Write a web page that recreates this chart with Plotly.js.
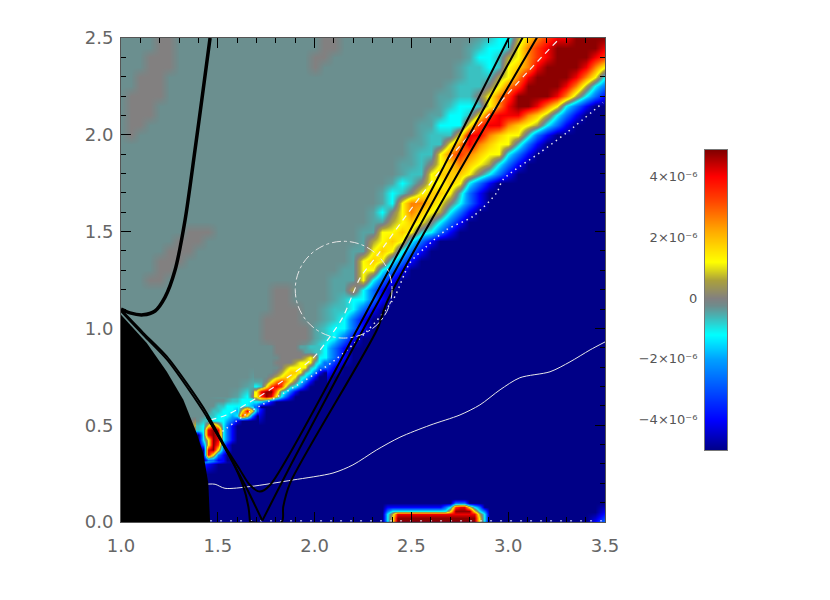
<!DOCTYPE html>
<html><head><meta charset="utf-8">
<script src="https://cdn.plot.ly/plotly-3.0.1.min.js"></script>
<style>html,body{margin:0;padding:0;background:#fff}</style></head>
<body><div id="chart" style="width:830px;height:600px"></div>
<script>
// Level key for the value grids (units of 1e-6)
const levelChars  = "ndakcetgoyuwrRDf";
const levelValues = [-5,-4,-2.6,-1.9,-1.2,-0.7,-0.28,0,0.6,1.2,1.8,2.6,3.4,4.1,4.8,-0.45];
// Main grid rows, y = 0.00 .. 2.50 step 0.05: first band column and band cells
const rowStart = [0,0,0,0,0,0,8,8,8,8,8,9,10,12,13,14,16,18,19,19,20,21,21,22,22,22,23,24,24,25,25,26,26,27,27,28,29,29,30,30,31,31,32,33,33,34,35,35,36,36,37];
const rowBand = ["","","","","","","ad","aRyd","yDRa","cRRad","yRrcad","eecrRdn","eecca","fcyRcad","ferRcad","ffywycad","fouycad","foycad","fecad","ffecad","feccad","fecad","feecad","feccad","ffocad","fffycad","ffyycad","fyuycad","ffyuycad","foyuycad","ffyyuyecad","ffoyuygcad","fcgywuyocad","fcywwuygcad","fcegyuuyead","fcegyyuycad","feeyuuuygcad","ffegyuwuyocad","feeywrwuyycad","ffeeywRwuyyead","feeeyRRwuyyead","ffcccyrRRwuyocad","ffcceyrRRRwuocad","fecceywRDDRwycad","ffeegywrDDDDRwocad","feeegywrDDDDRwoca","feeeoywRDDDDRwyc","feeceyuwRDDDDRwy","fcceoywrRDDDDRr","fecceywrRDDDDDR","feccouwrRRDDDD"];
// Small overrides on the main grid: row, column, cells
const gridPatches = [[50,4,"gg"],[49,4,"gg"],[48,3,"ggg"],[47,3,"ggg"],[46,2,"ggg"],[45,2,"ggg"],[44,1,"gggg"],[43,1,"ggg"],[42,1,"ggg"],[41,1,"gg"],[40,1,"g"],
 [50,21,"gg"],[49,21,"gg"],[48,20,"gg"],[47,20,"g"],
 [30,7,"ggg"],[29,6,"ggg"],[28,5,"ggg"],[27,4,"ggg"],[26,4,"gg"],[25,3,"gg"],
 [24,16,"gg"],[23,16,"gg"],[22,16,"ggg"],[21,15,"gggg"],[20,15,"ggggg"],[19,15,"ggggg"],[18,16,"ggg"],
 [0,49,"da"],[1,50,"d"]];
// Fine grid for the hot block at the bottom edge, x from 2.30 step 0.025, y from 0 step 0.02
const blockRows = [
 "nnncyDDDDDDDDDDDDDDDDDycnnnnn",
 "nnncyDDDDDDDDDDDDDDDDDycnnnnn",
 "nnncoRRRRRRRRRRRRRRRRRocnnnnn",
 "nnnaccccccccccccyDDDDycannnnn",
 "nnnddddddddddddacrRRycannnnnnn",
 "nnnnnnnnnnnnnnnnnaaannnnnnnnn",
 "nnnnnnnnnnnnnnnnnnnnnnnnnnnnn"];
// Fine grid for the hot spot by the sphere, x from 1.40 step 0.025, y from 0.325 step 0.025
const spotRows = [
 "nnaaddnnnnnnn",
 "nnRyadnnnnnnn",
 "nnRDyadnnnnnn",
 "nayDradnnnnnn",
 "ncyDRcadnnnnn",
 "ncRDRcadnnnnn",
 "ecRDRcadnnnnn",
 "ecyrycadnnnnn",
 "teeccckadnnnn",
 "tteeccckcryan",
 "ttteeccckyRya",
 "tttteecccccka",
 "ttttttfeeccck"];
// Fine grid for the lower ridge, x from 1.70 step 0.025, y from 0.60 step 0.025
const ridgeRows = [
 "annnnnnnnnnnnnn",
 "ccadnnnnnnnnnnn",
 "yrDRycadnnnnnnn",
 "yRDDwecadnnnnnn",
 "ceyrRryecadnnnn",
 "ffgywrwygcadnnn",
 "tttgoyuuyecadnn",
 "ttttgoyuuyecadn",
 "tttttgoyyyyecaa",
 "ttttggggoyyyeca",
 "tttttgggggoyocc",
 "ttttggggggffeec",
 "ttttgggggffeeec"];
// Colour scale stops
const scaleValues = [-5,-4,-2,-1.2,-0.6,-0.25,0,0.6,1.2,2.2,3.2,4,4.87];
const scaleColors = ["rgb(0,0,135)","rgb(0,0,255)","rgb(0,160,255)","rgb(0,255,255)","rgb(70,180,180)","rgb(110,140,140)","rgb(130,128,128)","rgb(170,160,60)","rgb(255,255,0)","rgb(255,170,0)","rgb(255,70,0)","rgb(255,0,0)","rgb(130,0,0)"];
const barLevels = [-5,-4.5,-4,-3.5,-3,-2.5,-2,-1.5,-1,-0.5,0,0.5,1,1.5,2,2.5,3,3.5,4,4.5,4.87];
const barTicks = [-4,-2,0,2,4];
const barLabels = ["\u22124\u00d710\u207b\u2076","\u22122\u00d710\u207b\u2076","0","2\u00d710\u207b\u2076","4\u00d710\u207b\u2076"];
// Lines
const sphereX = [1.0,1.064,1.133,1.236,1.322,1.391,1.425,1.451,1.46,1.46];
const sphereY = [1.07,1.0,0.924,0.777,0.631,0.459,0.355,0.2,0.047,0];
const thickX = [1.0,1.046,1.114,1.176,1.227,1.279,1.331,1.382,1.424,1.46];
const thickY = [1.10,1.08,1.07,1.09,1.16,1.30,1.56,1.92,2.23,2.5];
const lineAX = [1.0,1.115,1.236,1.339,1.443,1.528,1.615,1.666,1.718,1.77,2.219,2.302,2.632,3.004];
const lineAY = [1.096,0.977,0.855,0.717,0.562,0.407,0.269,0.191,0.157,0.191,0.993,1.148,1.768,2.503];
const lineBX = [1.0,1.115,1.236,1.339,1.443,1.58,1.649,1.73];
const lineBY = [1.09,0.967,0.841,0.7,0.544,0.304,0.174,0.007];
const lineB2X = [1.73,1.9,2.25,3.075];
const lineB2Y = [0.007,0.338,0.993,2.503];
const lineCX = [1.443,1.563,1.632,1.658,1.666];
const lineCY = [0.544,0.338,0.183,0.079,0];
const lineC2X = [1.666,1.83,1.838,1.873,2.322,2.379,3.149];
const lineC2Y = [0,0,0.079,0.2,0.993,1.148,2.503];
const dashX = [1.46,1.546,1.7,1.82,1.993,2.08,2.148,2.235,2.32,2.508,2.734,2.94,3.096,3.26];
const dashY = [0.527,0.553,0.64,0.718,0.848,0.958,1.062,1.261,1.372,1.63,1.923,2.147,2.32,2.492];
const dotX = [1.5,1.666,1.856,2.095,2.269,2.405,2.493,2.579,2.682,2.818,2.94,2.973,3.164,3.302,3.49];
const dotY = [0.45,0.57,0.674,0.829,0.984,1.148,1.339,1.424,1.51,1.579,1.70,1.768,1.908,2.011,2.166];
const thinX = [1.451,1.486,1.537,1.666,1.888,2.095,2.198,2.32,2.441,2.596,2.751,2.854,2.958,3.06,3.216,3.319,3.423,3.5];
const thinY = [0.196,0.195,0.174,0.183,0.217,0.253,0.295,0.372,0.438,0.50,0.553,0.605,0.683,0.745,0.776,0.827,0.889,0.93];
const edgeX = [1.46,3.5];
const edgeY = [0.006,0.006];
const xTicks = [1,1.5,2,2.5,3,3.5], yTicks = [0,0.5,1,1.5,2,2.5];

const val = c => levelValues[levelChars.indexOf(c)];
const z = rowBand.map((band,j)=>{
  const row=[];
  for(let i=0;i<=50;i++){
    const s=rowStart[j];
    row.push(i<s?val('t'):(i-s<band.length?val(band[i-s]):val('n')));
  }
  return row;
});
gridPatches.forEach(([j,i,s])=>{ [...s].forEach((c,k)=>{ z[j][i+k]=val(c); }); });
const gx=[],gy=[]; for(let i=0;i<=50;i++){gx.push(1+i*0.05);gy.push(i*0.05);}
const blockZ=blockRows.map(r=>[...r].slice(0,29).map(val));
const bx=[],by=[]; for(let i=0;i<29;i++)bx.push(2.3+i*0.025); for(let k=0;k<blockRows.length;k++)by.push(k*0.02);
const spotZ=spotRows.map(r=>[...r].map(val));
const sx=[],sy=[]; for(let i=0;i<13;i++){sx.push(1.4+i*0.025);sy.push(0.325+i*0.025);}
const ridgeZ=ridgeRows.map(r=>[...r].map(val));
const rx=[],ry=[]; for(let i=0;i<15;i++)rx.push(1.7+i*0.025); for(let i=0;i<13;i++)ry.push(0.6+i*0.025);
const zmin=-5,zmax=4.87;
const cs=scaleValues.map((v,i)=>[(v-zmin)/(zmax-zmin),scaleColors[i]]);
const hm={type:'heatmap',zsmooth:'best',colorscale:cs,zmin,zmax,showscale:false,hoverinfo:'skip'};
const ln=(x,y,color,width,dash,shape)=>({type:'scatter',mode:'lines',x,y,line:{color,width,dash:dash||'solid',shape:shape||'spline',smoothing:0.8},hoverinfo:'skip',showlegend:false});
const traces=[
 Object.assign({},hm,{x:gx,y:gy,z}),
 Object.assign({},hm,{x:bx,y:by,z:blockZ}),
 Object.assign({},hm,{x:sx,y:sy,z:spotZ}),
 Object.assign({},hm,{x:rx,y:ry,z:ridgeZ}),
 {type:'scatter',mode:'lines',x:sphereX.concat([1.0,1.0]),y:sphereY.concat([0,1.07]),fill:'toself',fillcolor:'#000',line:{color:'#000',width:0},hoverinfo:'skip',showlegend:false},
 ln(thinX,thinY,'#e8e8e8',1),
 ln(edgeX,edgeY,'#dfe8ff',1,'2px,8px','linear'),
 ln(dotX,dotY,'#e4e4ee',1.5,'1.5px,4px'),
 ln(dashX,dashY,'#f4f4f4',1.2,'6px,5px'),
 ln(thickX,thickY,'#000',3.5),
 ln(lineAX,lineAY,'#000',2),
 ln(lineBX,lineBY,'#000',2),
 ln(lineB2X,lineB2Y,'#000',2),
 ln(lineCX,lineCY,'#000',2),
 ln(lineC2X,lineC2Y,'#000',2),
 Object.assign({},hm,{x:[0,1],y:barLevels,z:barLevels.map(v=>[v,v]),xaxis:'x2',yaxis:'y2'})
];
const tf={family:'DejaVu Sans',size:18,color:'#666'};
const axis={linecolor:'#555',linewidth:1,mirror:'ticks',ticks:'inside',ticklen:10,tickcolor:'#000',tickwidth:1,showgrid:false,zeroline:false,tickfont:tf,
  minor:{dtick:0.1,ticks:'inside',ticklen:5,tickcolor:'#000',tickwidth:1,showgrid:false},tickformat:'.1f'};
const layout={width:830,height:600,margin:{l:0,r:0,t:0,b:0},paper_bgcolor:'#fff',plot_bgcolor:'#fff',showlegend:false,
 xaxis:Object.assign({},axis,{domain:[121/830,605/830],range:[1,3.5],tickvals:xTicks,ticklabelstandoff:7,anchor:'y'}),
 yaxis:Object.assign({},axis,{domain:[78/600,562/600],range:[0,2.5],tickvals:yTicks,ticklabelstandoff:3,anchor:'x'}),
 xaxis2:{domain:[705/830,727/830],range:[0,1],showticklabels:false,ticks:'',showgrid:false,zeroline:false,linecolor:'#777',linewidth:1,mirror:true,anchor:'y2'},
 yaxis2:{domain:[150/600,450/600],range:[-5,4.87],tickvals:barTicks,ticktext:barLabels,ticks:'',showgrid:false,zeroline:false,linecolor:'#777',linewidth:1,mirror:true,anchor:'x2',side:'left',ticklabelstandoff:4,tickfont:{family:'DejaVu Sans',size:13,color:'#555'}},
 shapes:[{type:'circle',xref:'x',yref:'y',x0:1.9,x1:2.4,y0:0.95,y1:1.45,line:{color:'#e6e6e6',width:1,dash:'dashdot'}}]
};
Plotly.newPlot('chart',traces,layout,{displayModeBar:false,staticPlot:true});
</script></body></html>
